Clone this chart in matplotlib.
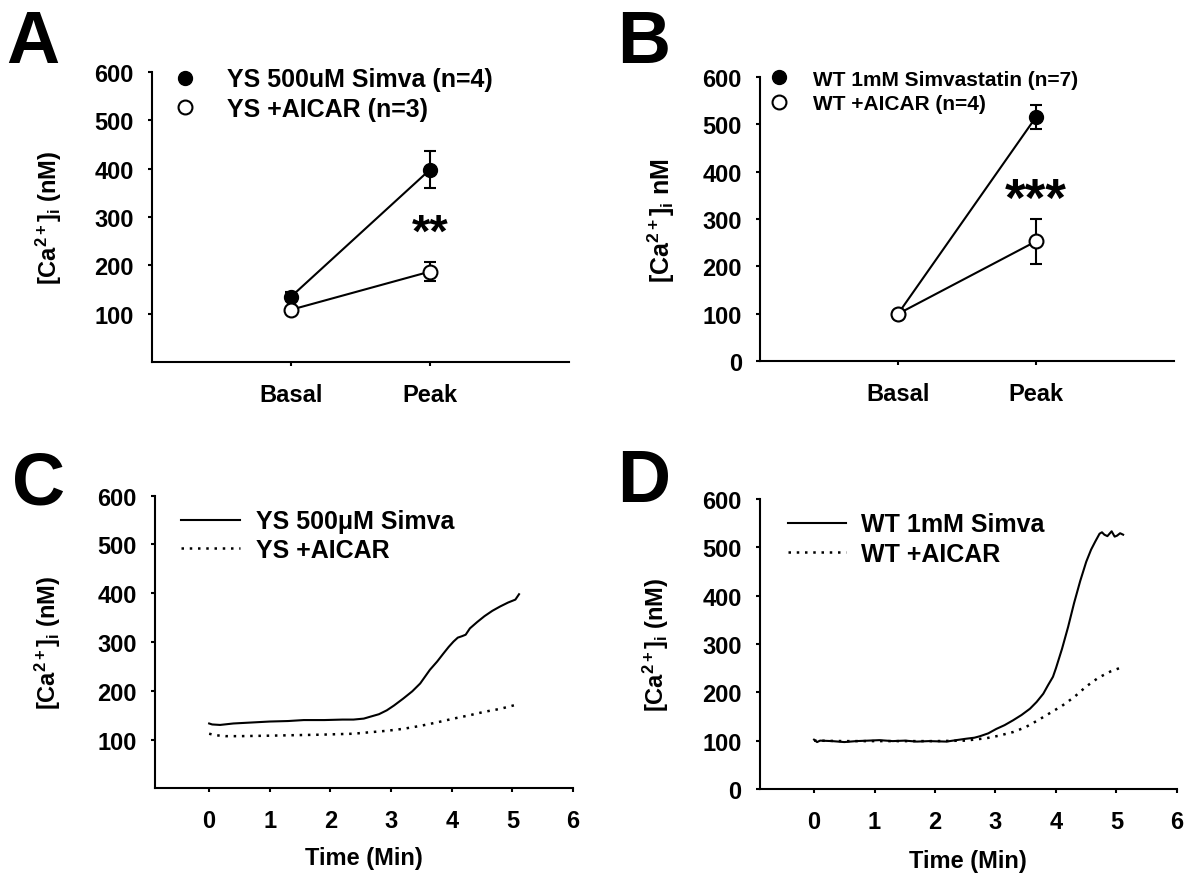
import matplotlib
matplotlib.use('Agg')
import matplotlib.pyplot as plt
from matplotlib.lines import Line2D

plt.rcParams['font.family'] = ['Liberation Sans', 'DejaVu Sans']
plt.rcParams['font.weight'] = 'bold'
plt.rcParams['mathtext.fontset'] = 'custom'
plt.rcParams['mathtext.rm'] = 'Liberation Sans:bold'
plt.rcParams['mathtext.bf'] = 'Liberation Sans:bold'
plt.rcParams['mathtext.it'] = 'Liberation Sans:bold'
plt.rcParams['mathtext.default'] = 'bf'

# ---- data ----
categories = ['Basal', 'Peak']

# panel A
a_simva = [135, 398]
a_simva_err = [9, 38]
a_aicar = [108, 187]
a_aicar_err = [5, 19]

# panel B
b_simva = [100, 515]
b_simva_err = [3, 25]
b_aicar = [100, 253]
b_aicar_err = [3, 47]

# panel C traces (time in min, [Ca2+]i in nM)
c_simva_t = [0, 0.05, 0.18, 0.4, 0.7, 1.0, 1.3, 1.56, 1.9, 2.2, 2.38, 2.55, 2.66, 2.8,
             2.93, 3.05, 3.2, 3.35, 3.48, 3.64, 3.76, 3.86, 3.95, 4.03, 4.1, 4.17, 4.23,
             4.3, 4.42, 4.54, 4.67, 4.8, 4.93, 5.05, 5.11]
c_simva_v = [133, 131, 130, 133, 135, 137, 138, 140, 140, 141, 141, 143, 147, 152,
             160, 170, 184, 199, 215, 243, 260, 276, 290, 301, 309, 312, 315,
             328, 341, 353, 364, 373, 381, 387, 398]
c_aicar_t = [0, 0.1, 0.27, 0.5, 1.0, 1.4, 1.83, 2.1, 2.38, 2.65, 2.93, 3.2, 3.48, 3.75,
             4.03, 4.3, 4.54, 4.8, 5.05]
c_aicar_v = [112, 109, 107, 107, 108, 109, 110, 111, 112, 115, 118, 122, 128, 135,
             143, 150, 157, 163, 171]

# panel D traces
d_simva_t = [0, 0.05, 0.1, 0.3, 0.5, 0.7, 0.9, 1.08, 1.3, 1.5, 1.7, 1.9, 2.19, 2.35,
             2.52, 2.65, 2.74, 2.88, 3.01, 3.15, 3.29, 3.43, 3.57, 3.68, 3.79, 3.87,
             3.95, 4.0, 4.1, 4.2, 4.3, 4.4, 4.5, 4.58, 4.65, 4.72, 4.76, 4.8, 4.85,
             4.92, 4.97, 5.01, 5.06, 5.11]
d_simva_v = [102, 97, 100, 99, 97, 99, 100, 101, 99, 100, 98, 99, 98, 101,
             104, 106, 109, 115, 124, 132, 142, 153, 166, 180, 197, 215,
             232, 250, 290, 335, 385, 430, 470, 495, 512, 528, 531, 526, 523,
             533, 522, 524, 529, 526]
d_aicar_t = [0, 0.5, 1.0, 1.5, 2.0, 2.5, 2.85, 3.05, 3.3, 3.5, 3.7, 3.9, 4.1, 4.3,
             4.5, 4.7, 4.9, 5.05]
d_aicar_v = [100, 99, 99, 99, 99, 100, 105, 110, 118, 128, 142, 157, 172, 190,
             212, 230, 243, 250]


def style_axes(ax):
    for side in ['top', 'right']:
        ax.spines[side].set_visible(False)
    for side in ['left', 'bottom']:
        ax.spines[side].set_linewidth(1.5)
    ax.tick_params(direction='out', length=3, width=1.5, labelsize=17)
    ax.tick_params(axis='y', pad=10)
    ax.tick_params(axis='x', pad=12)
    for lab in ax.get_xticklabels() + ax.get_yticklabels():
        lab.set_fontweight('bold')


def marker_handles():
    filled = Line2D([], [], ls='none', marker='o', ms=10, mfc='black', mec='black')
    hollow = Line2D([], [], ls='none', marker='o', ms=10, mfc='white', mec='black',
                    mew=1.5)
    return [filled, hollow]


fig = plt.figure(figsize=(12, 8.87), dpi=100)
xs = [1, 2]
ylab = r'[Ca$^{2+}$]$_{i}$ (nM)'

# ---- A ----
axA = fig.add_axes([0.1267, 0.5908, 0.3475, 0.327])
axA.errorbar(xs, a_simva, yerr=a_simva_err, color='black', lw=1.5, marker='o',
             ms=10, mfc='black', mec='black', capsize=4.5, elinewidth=1.5,
             capthick=1.5, zorder=3)
axA.errorbar(xs, a_aicar, yerr=a_aicar_err, color='black', lw=1.5, marker='o',
             ms=10, mfc='white', mec='black', mew=1.5, capsize=4.5,
             elinewidth=1.5, capthick=1.5, zorder=4)
axA.set_xlim(0, 3)
axA.set_ylim(0, 600)
axA.set_xticks(xs)
axA.set_xticklabels(categories)
axA.set_yticks([100, 200, 300, 400, 500, 600])
axA.set_ylabel(ylab, fontsize=17, fontweight='bold')
axA.yaxis.set_label_coords(-0.212, 0.5)
axA.text(2, 240, '**', fontsize=34, fontweight='bold', ha='center', va='baseline')
axA.legend(marker_handles(), ['YS 500uM Simva (n=4)', 'YS +AICAR (n=3)'],
           loc='upper left', bbox_to_anchor=(0.049, 1.016), frameon=False,
           fontsize=18, handlelength=1.0, handletextpad=1.18,
           labelspacing=0.23, borderpad=0, borderaxespad=0, numpoints=1)
style_axes(axA)

# ---- B ----
axB = fig.add_axes([0.6333, 0.5915, 0.345, 0.3208])
axB.errorbar(xs, b_simva, yerr=b_simva_err, color='black', lw=1.5, marker='o',
             ms=10, mfc='black', mec='black', capsize=4.5, elinewidth=1.5,
             capthick=1.5, zorder=3)
axB.errorbar(xs, b_aicar, yerr=b_aicar_err, color='black', lw=1.5, marker='o',
             ms=10, mfc='white', mec='black', mew=1.5, capsize=4.5,
             elinewidth=1.5, capthick=1.5, zorder=4)
axB.set_xlim(0, 3)
axB.set_ylim(0, 600)
axB.set_xticks(xs)
axB.set_xticklabels(categories)
axB.set_yticks([0, 100, 200, 300, 400, 500, 600])
axB.set_ylabel(r'[Ca$^{2+}$]$_{i}$ nM', fontsize=18, fontweight='bold')
axB.yaxis.set_label_coords(-0.2, 0.5)
axB.text(2, 309, '***', fontsize=38, fontweight='bold', ha='center', va='baseline')
axB.legend(marker_handles(), ['WT 1mM Simvastatin (n=7)', 'WT +AICAR (n=4)'],
           loc='upper left', bbox_to_anchor=(0.021, 1.025), frameon=False,
           fontsize=15, handlelength=1.0, handletextpad=1.13,
           labelspacing=0.26, borderpad=0, borderaxespad=0, numpoints=1)
style_axes(axB)

# ---- C ----
axC = fig.add_axes([0.1288, 0.1101, 0.3487, 0.3299])
axC.plot(c_simva_t, c_simva_v, color='black', lw=1.5, label='YS 500\u03bcM Simva')
axC.plot(c_aicar_t, c_aicar_v, color='black', lw=1.8, linestyle=(0, (1, 2.3)),
         label='YS +AICAR')
axC.set_xlim(-0.9, 6)
axC.set_ylim(0, 600)
axC.set_xticks([0, 1, 2, 3, 4, 5, 6])
axC.set_yticks([100, 200, 300, 400, 500, 600])
axC.set_ylabel(ylab, fontsize=17, fontweight='bold')
axC.yaxis.set_label_coords(-0.218, 0.5)
axC.set_xlabel('Time (Min)', fontsize=17, fontweight='bold', va='center')
axC.xaxis.set_label_coords(0.5, -0.235)
axC.legend(loc='upper left', bbox_to_anchor=(0.063, 0.9535), frameon=False,
           fontsize=18, handlelength=2.36, handletextpad=0.64,
           labelspacing=0.19, borderpad=0, borderaxespad=0)
style_axes(axC)

# ---- D ----
axD = fig.add_axes([0.633, 0.1094, 0.3478, 0.327])
axD.plot(d_simva_t, d_simva_v, color='black', lw=1.5, label='WT 1mM Simva')
axD.plot(d_aicar_t, d_aicar_v, color='black', lw=1.8, linestyle=(0, (1, 2.3)),
         label='WT +AICAR')
axD.set_xlim(-0.9, 6)
axD.set_ylim(0, 600)
axD.set_xticks([0, 1, 2, 3, 4, 5, 6])
axD.set_yticks([0, 100, 200, 300, 400, 500, 600])
axD.set_ylabel(ylab, fontsize=17, fontweight='bold')
axD.yaxis.set_label_coords(-0.212, 0.5)
axD.set_xlabel('Time (Min)', fontsize=17, fontweight='bold', va='center')
axD.xaxis.set_label_coords(0.5, -0.248)
axD.legend(loc='upper left', bbox_to_anchor=(0.068, 0.954), frameon=False,
           fontsize=18, handlelength=2.32, handletextpad=0.62,
           labelspacing=0.23, borderpad=0, borderaxespad=0)
style_axes(axD)

# panel letters
fig.text(0.005, 0.929, 'A', fontsize=53, fontweight='bold', va='baseline')
fig.text(0.514, 0.929, 'B', fontsize=53, fontweight='bold', va='baseline')
fig.text(0.010, 0.4307, 'C', fontsize=53, fontweight='bold', va='baseline')
fig.text(0.514, 0.434, 'D', fontsize=53, fontweight='bold', va='baseline')

fig.savefig('out.png', dpi=100)
